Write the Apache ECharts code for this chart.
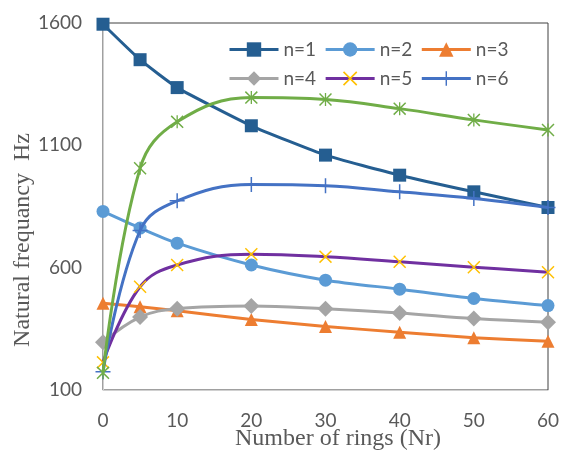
<!DOCTYPE html>
<html>
<head>
<meta charset="utf-8">
<script src="https://cdn.jsdelivr.net/npm/echarts@6/dist/echarts.min.js"></script>
<style>html,body{margin:0;padding:0;background:#fff}#c{width:564px;height:455px}</style>
</head>
<body>
<div id="c"></div>
<script>
// ---- data ----
const xValues = [0, 5, 10, 20, 30, 40, 50, 60];
const xTicks = [0, 10, 20, 30, 40, 50, 60];
const yTicks = [100, 600, 1100, 1600];
const seriesNames = ['n=1', 'n=2', 'n=3', 'n=4', 'n=5', 'n=6', 'n=7'];
const n1 = [1595, 1450, 1336, 1180, 1060, 978, 910, 846];
const n2 = [830, 762, 700, 611, 549, 512, 474, 445];
const n3 = [455, 440, 424, 388, 360, 336, 314, 299];
const n4 = [295, 398, 432, 443, 432, 415, 392, 377];
const n5 = [213, 522, 611, 655, 645, 624, 602, 581];
const n6 = [175, 752, 873, 940, 935, 910, 883, 846];
const n7 = [170, 1006, 1196, 1295, 1287, 1250, 1204, 1163];
const xTitle = 'Number of rings (Nr)';
const yTitle = 'Natural frequancy  Hz';

// ---- styling ----
const X_PATH = 'path://M0,8 L8,0 L50,42 L92,0 L100,8 L58,50 L100,92 L92,100 L50,58 L8,100 L0,92 L42,50 Z';
const PLUS_PATH = 'path://M45,0 H55 V45 H100 V55 H55 V100 H45 V55 H0 V45 H45 Z';
const STAR_PATH = 'path://M0,8 L8,0 L50,42 L92,0 L100,8 L58,50 L100,92 L92,100 L50,58 L8,100 L0,92 L42,50 Z M45,0 H55 V100 H45 Z';

const pair = arr => xValues.map((x, i) => [x, arr[i]]);
const styles = [
  {data: n1, line: '#255E91', mark: '#255E91', symbol: 'rect', size: 13, smooth: 0.15},
  {data: n2, line: '#5B9BD5', mark: '#5B9BD5', symbol: 'circle', size: 13, smooth: 0.25},
  {data: n3, line: '#ED7D31', mark: '#ED7D31', symbol: 'triangle', size: 13, smooth: 0.2},
  {data: n4, line: '#A5A5A5', mark: '#A5A5A5', symbol: 'diamond', size: 16, smooth: 0.4},
  {data: n5, line: '#7030A0', mark: '#FFC000', symbol: X_PATH, size: 13, smooth: 0.4},
  {data: n6, line: '#4472C4', mark: '#4472C4', symbol: PLUS_PATH, size: 15, smooth: 0.4},
  {data: n7, line: '#70AD47', mark: '#70AD47', symbol: STAR_PATH, size: 13, smooth: 0.4}
];

const labelFont = {fontFamily: 'Lato', fontSize: 19, color: '#595959'};
const legendCommon = {left: 228, padding: 0, itemWidth: 49, itemHeight: 18, itemGap: 8, textStyle: labelFont, lineStyle: {width: 3}};
const chart = echarts.init(document.getElementById('c'), null, {renderer: 'canvas'});
chart.setOption({
  animation: false,
  backgroundColor: '#ffffff',
  grid: {left: 103, right: 16, top: 23, bottom: 65, show: true, borderColor: '#404040', borderWidth: 1, backgroundColor: 'transparent'},
  legend: [
    Object.assign({data: seriesNames.slice(0, 3), top: 40}, legendCommon),
    Object.assign({data: seriesNames.slice(3, 6), top: 69}, legendCommon)
  ],
  xAxis: {
    type: 'value', min: xTicks[0], max: xTicks[xTicks.length - 1], interval: 10,
    axisLine: {show: true, lineStyle: {color: '#D0D0D0', width: 1}},
    axisTick: {show: false}, splitLine: {show: false},
    axisLabel: Object.assign({margin: 21, customValues: xTicks, formatter: v => String(v)}, labelFont)
  },
  yAxis: {
    type: 'value', min: yTicks[0], max: yTicks[yTicks.length - 1],
    axisLine: {show: true, lineStyle: {color: '#D0D0D0', width: 1}},
    axisTick: {show: false, customValues: yTicks}, splitLine: {show: false},
    axisLabel: Object.assign({margin: 21, customValues: yTicks, formatter: v => String(v)}, labelFont)
  },
  graphic: [
    {type: 'text', x: 338, y: 439, style: {text: xTitle, align: 'center', verticalAlign: 'middle', font: '24px "Liberation Serif"', fill: '#595959'}},
    {type: 'text', x: 23, y: 240, rotation: Math.PI / 2, style: {text: yTitle, align: 'center', verticalAlign: 'middle', font: '24px "Liberation Serif"', fill: '#595959'}}
  ],
  series: styles.map((s, i) => ({
    name: seriesNames[i], type: 'line', data: pair(s.data),
    symbol: s.symbol, symbolSize: s.size, showAllSymbol: true,
    smooth: s.smooth,
    lineStyle: {color: s.line, width: 3},
    itemStyle: {color: s.mark, borderWidth: 0},
    z: 2 + i
  }))
});
</script>
</body>
</html>
